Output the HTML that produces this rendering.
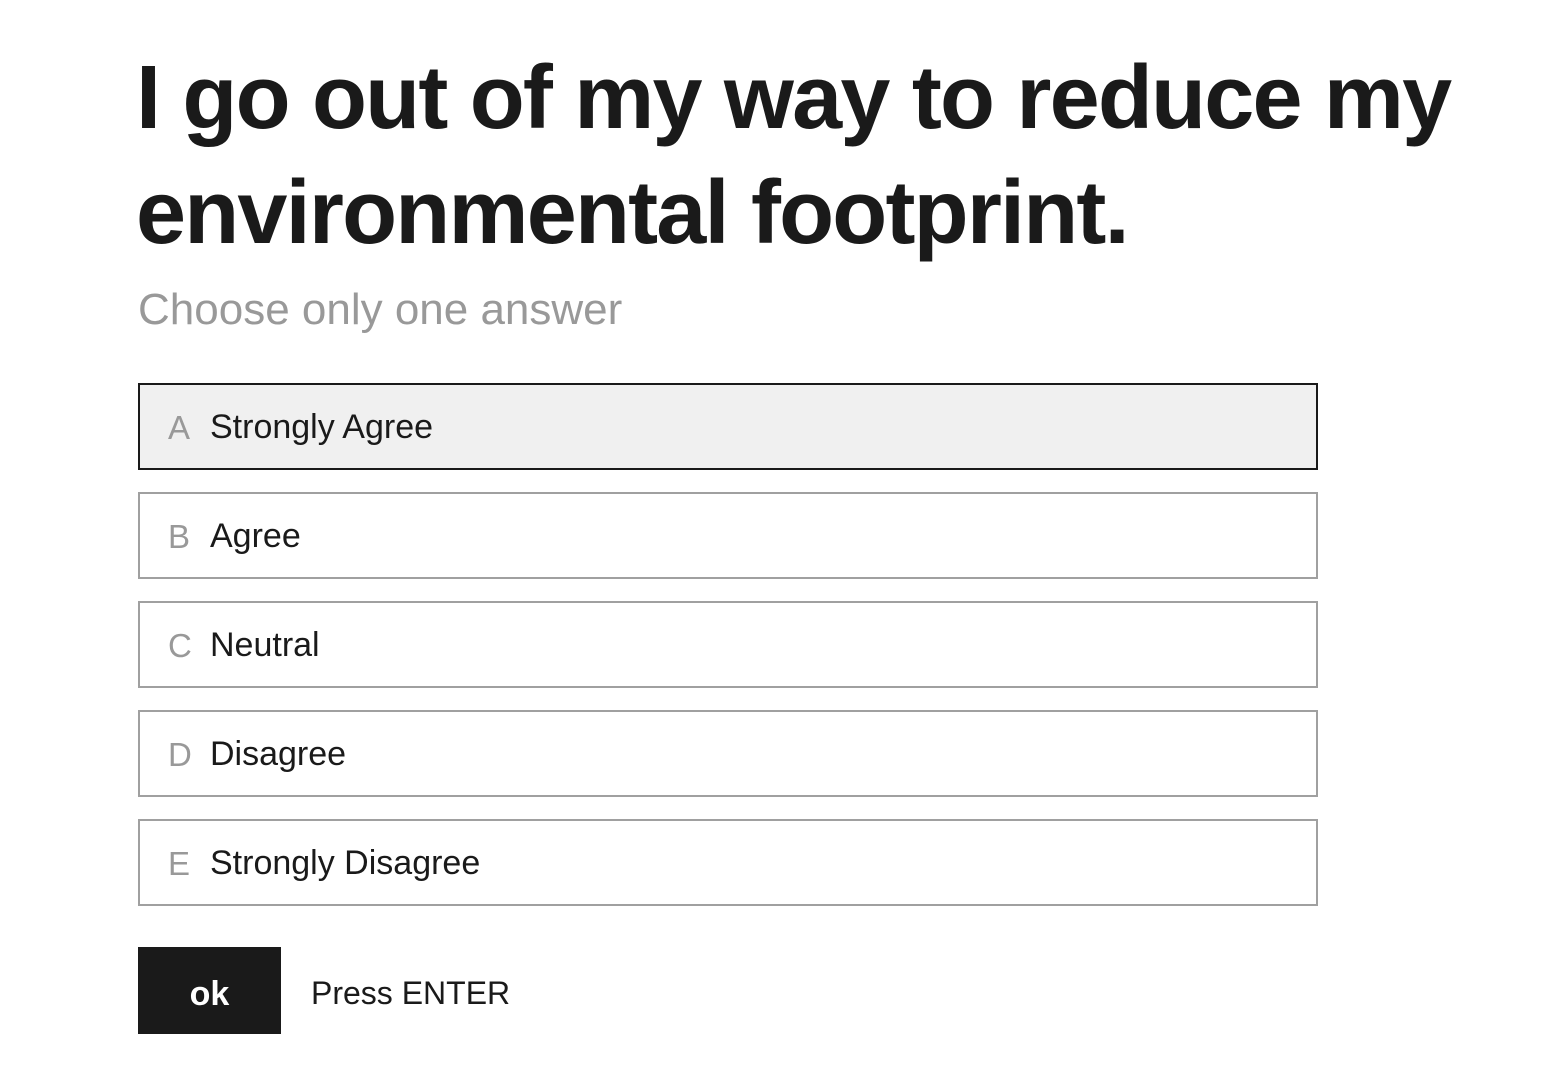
<!DOCTYPE html>
<html>
<head>
<meta charset="utf-8">
<style>
  html,body{margin:0;padding:0;background:#fff;}
  body{width:1554px;height:1082px;position:relative;overflow:hidden;font-family:"Liberation Sans",Arial,sans-serif;color:#1a1a1a;}
  .title{position:absolute;left:136px;top:41px;margin:0;font-size:90px;font-weight:bold;line-height:115px;letter-spacing:-1.8px;}
  .sub{position:absolute;left:138px;top:284px;margin:0;font-size:44px;color:#999;line-height:52px;}
  .opt{position:absolute;left:138px;width:1176px;height:83px;border:2px solid #a0a0a0;background:#fff;box-sizing:content-box;cursor:pointer;}
  .opt.sel{background:#f0f0f0;border-color:#1a1a1a;}
  .opt .k{position:absolute;left:28px;top:0;line-height:85px;font-size:33px;color:#999;}
  .opt .t{position:absolute;left:70px;top:0;line-height:85px;font-size:34px;color:#1a1a1a;}
  .ok{position:absolute;left:138px;top:947px;width:143px;height:87px;background:#1a1a1a;color:#fff;font-weight:bold;font-size:34px;line-height:95px;text-align:center;cursor:pointer;}
  .hint{position:absolute;left:311px;top:948px;line-height:90px;font-size:32px;color:#1a1a1a;}
</style>
</head>
<body>
  <h1 class="title">I go out of my way to reduce my<br>environmental footprint.</h1>
  <p class="sub">Choose only one answer</p>

  <div class="opt sel" style="top:383px"><span class="k">A</span><span class="t">Strongly Agree</span></div>
  <div class="opt" style="top:492px"><span class="k">B</span><span class="t">Agree</span></div>
  <div class="opt" style="top:601px"><span class="k">C</span><span class="t">Neutral</span></div>
  <div class="opt" style="top:710px"><span class="k">D</span><span class="t">Disagree</span></div>
  <div class="opt" style="top:819px"><span class="k">E</span><span class="t">Strongly Disagree</span></div>

  <div class="ok">ok</div>
  <div class="hint">Press ENTER</div>
</body>
</html>
